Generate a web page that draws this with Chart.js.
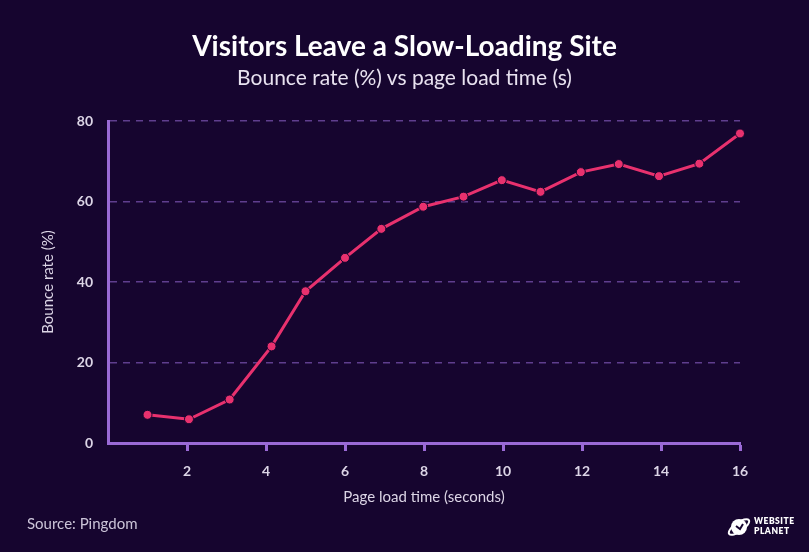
<!DOCTYPE html>
<html>
<head>
<meta charset="utf-8">
<script src="https://cdn.jsdelivr.net/npm/chart.js@4"></script>
<style>
  html, body { margin: 0; padding: 0; background: #16052f; }
  #wrap { position: relative; width: 809px; height: 552px; }
  #chart { position: absolute; left: 0; top: 0; }
  .head { position: absolute; left: 0; width: 809px; text-align: center; font-family: Lato, sans-serif; white-space: nowrap; }
  #title { top: 28px; font-size: 28px; line-height: 34px; font-weight: bold; color: #fff; }
  #subtitle { top: 64px; font-size: 21px; line-height: 26px; color: #e8e2f0; }
  #source { position: absolute; left: 27px; top: 514px; font: 15px Lato, sans-serif; color: #cbc4d8; }
  #logo { position: absolute; left: 727px; top: 513px; display: flex; align-items: center; }
  #logo .name { margin-left: 3px; font: 800 8.5px/10px Lato, sans-serif; color: #fff; letter-spacing: 0.5px; }
</style>
</head>
<body>
<div id="wrap">
  <canvas id="chart" width="809" height="552"></canvas>
  <div id="title" class="head">Visitors Leave a Slow-Loading Site</div>
  <div id="subtitle" class="head">Bounce rate (%) vs page load time (s)</div>
  <div id="source">Source: Pingdom</div>
  <div id="logo">
    <svg width="24" height="26" viewBox="0 0 24 26">
      <circle cx="12" cy="14" r="8" fill="#fff"/>
      <ellipse cx="12" cy="14" rx="12" ry="4.5" fill="none" stroke="#fff" stroke-width="2" transform="rotate(-35 12 14)"/>
      <path d="M9 13 l4 3 l3 -5" fill="none" stroke="#16052f" stroke-width="2"/>
    </svg>
    <div class="name">WEBSITE<br>PLANET</div>
  </div>
</div>
<script>
// bounce rate (%) by page load time (s)
const loadTimes = [1, 2.05, 3.08, 4.14, 5, 6, 6.92, 7.98, 9, 9.97, 10.95, 11.97, 12.93, 13.95, 14.97, 16];
const bounceRates = [7, 5.9, 10.8, 24, 37.7, 46, 53.2, 58.7, 61.2, 65.3, 62.4, 67.3, 69.3, 66.3, 69.4, 76.9];
const xTicks = [2, 4, 6, 8, 10, 12, 14, 16];
const yTicks = [0, 20, 40, 60, 80];

const axisColor = '#9a6ad6';
const gridColor = '#5f3e8e';
const labelColor = '#dcd5e6';
const lineColor = '#e8316e';
const bg = '#16052f';

Chart.defaults.font.family = 'Lato';

new Chart(document.getElementById('chart'), {
    type: 'line',
    data: {
        datasets: [{
            data: loadTimes.map((x, i) => ({ x: x, y: bounceRates[i] })),
            borderColor: lineColor,
            borderWidth: 3,
            pointRadius: 4.5,
            pointBackgroundColor: lineColor,
            pointBorderColor: bg,
            pointBorderWidth: 1,
            tension: 0,
            clip: false
        }]
    },
    options: {
        responsive: false,
        animation: false,
        layout: { padding: { left: 30, right: 69, top: 121, bottom: 39 } },
        plugins: {
            legend: { display: false },
            tooltip: { enabled: false }
        },
        scales: {
            x: {
                type: 'linear',
                min: 0,
                max: 16,
                afterBuildTicks: s => { s.ticks = xTicks.map(v => ({ value: v })); },
                afterFit: s => { s.height = 70; },
                grid: { drawOnChartArea: false, drawTicks: true, tickLength: 8, tickWidth: 3, tickColor: axisColor },
                border: { color: axisColor, width: 3 },
                ticks: { color: labelColor, font: { size: 14, weight: 'bold' }, padding: 12, maxRotation: 0, autoSkip: false },
                title: {
                    display: true,
                    text: 'Page load time (seconds)',
                    color: labelColor,
                    font: { size: 15 },
                    padding: { top: 0, bottom: 7 }
                }
            },
            y: {
                min: 0,
                max: 80,
                afterBuildTicks: s => { s.ticks = yTicks.map(v => ({ value: v })); },
                afterFit: s => { s.width = 78; },
                grid: {
                    color: c => (c.tick && c.tick.value === 0) ? 'rgba(0,0,0,0)' : gridColor,
                    lineWidth: 1.5,
                    drawTicks: false
                },
                border: { color: axisColor, width: 3, dash: [7, 6] },
                ticks: { color: labelColor, font: { size: 14, weight: 'bold' }, padding: 15 },
                title: {
                    display: true,
                    text: 'Bounce rate (%)',
                    color: labelColor,
                    font: { size: 15 },
                    padding: { top: 9, bottom: 0 }
                }
            }
        }
    }
});
</script>
</body>
</html>
